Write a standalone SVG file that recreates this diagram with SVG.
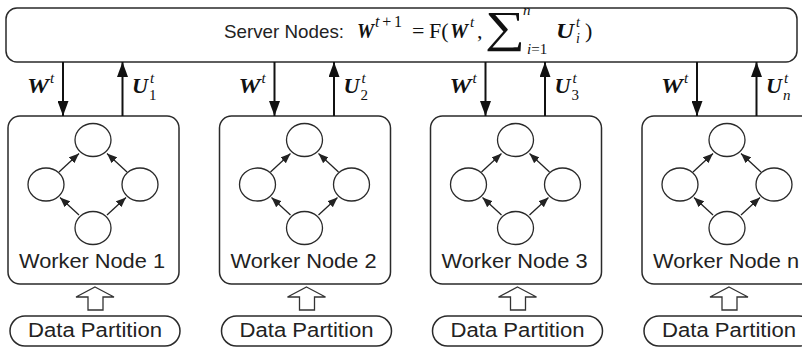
<svg xmlns="http://www.w3.org/2000/svg" width="802" height="347" viewBox="0 0 802 347">
  <style>
    .box{fill:#fff;stroke:#2a2a2a;stroke-width:1.5}
    .nd{fill:#fff;stroke:#2a2a2a;stroke-width:1.3}
    .lbl{font-family:"Liberation Sans",Arial,sans-serif;font-size:20px;fill:#222}
    .m{font-family:"Liberation Serif","DejaVu Serif",serif;font-weight:bold;font-style:italic;fill:#111}
    .r{font-family:"Liberation Serif","DejaVu Serif",serif;fill:#111}
    .i{font-style:italic}
    .edge{stroke:#222;stroke-width:1.3;fill:none;marker-end:url(#ah)}
    .link{stroke:#111;stroke-width:2;fill:none;marker-end:url(#big)}
    .feed{fill:#fff;stroke:#333;stroke-width:1.3}
  </style>
  <defs>
    <marker id="ah" viewBox="0 0 10 8" refX="10" refY="4" markerWidth="10" markerHeight="8" markerUnits="userSpaceOnUse" orient="auto">
      <path d="M0,0 L10,4 L0,8 z" fill="#222"/>
    </marker>
    <marker id="big" viewBox="0 0 15 11" refX="15" refY="5.5" markerWidth="15" markerHeight="11" markerUnits="userSpaceOnUse" orient="auto">
      <path d="M0,0 L15,5.5 L0,11 z" fill="#111"/>
    </marker>
    <!-- one worker: box, four units, internal edges -->
    <g id="worker-body">
      <rect class="box" x="8" y="116" width="171" height="168" rx="12"/>
      <ellipse class="nd" cx="93" cy="140" rx="18" ry="16.5"/>
      <ellipse class="nd" cx="46" cy="184.5" rx="18" ry="16.5"/>
      <ellipse class="nd" cx="140" cy="184.5" rx="18" ry="16.5"/>
      <ellipse class="nd" cx="93" cy="228" rx="18" ry="16.5"/>
      <line class="edge" x1="59" y1="172" x2="79" y2="153.5"/>
      <line class="edge" x1="127" y1="172" x2="107" y2="153.5"/>
      <line class="edge" x1="79" y1="215" x2="60" y2="197.5"/>
      <line class="edge" x1="107" y1="215" x2="126" y2="197.5"/>
    </g>
    <!-- hollow feed arrow and the partition pill -->
    <g id="data-body">
      <polygon class="feed" points="95,287 114,297 103,297 103,310 88,310 88,297 76,297"/>
      <rect class="box" x="10" y="316" width="170" height="30" rx="15"/>
      <text class="lbl" x="95" y="337" text-anchor="middle" textLength="134" lengthAdjust="spacingAndGlyphs">Data Partition</text>
    </g>
  </defs>

  <!-- server -->
  <g id="server">
    <rect class="box" x="6" y="8" width="791" height="54" rx="11"/>
    <text class="lbl" x="224" y="37.5" style="font-size:19px" textLength="120" lengthAdjust="spacingAndGlyphs">Server Nodes:</text>
    <text class="m" x="357" y="37.5" font-size="22" textLength="17" lengthAdjust="spacingAndGlyphs">W</text>
    <text class="r" x="375" y="27" font-size="16" textLength="27" lengthAdjust="spacing"><tspan class="i">t</tspan>+1</text>
    <text class="r" x="412" y="37.5" font-size="22">=</text>
    <text class="r" x="429" y="37.5" font-size="22">F(</text>
    <text class="m" x="450" y="37.5" font-size="22" textLength="18" lengthAdjust="spacingAndGlyphs">W</text>
    <text class="r i" x="470" y="27" font-size="15">t</text>
    <text class="r" x="477" y="37.5" font-size="22">,</text>
    <text class="r" x="485" y="42" font-size="44" textLength="40" lengthAdjust="spacingAndGlyphs">∑</text>
    <text class="r i" x="523" y="15" font-size="15">n</text>
    <text class="r" x="527" y="54" font-size="15"><tspan class="i">i</tspan>=1</text>
    <text class="m" x="556" y="37.5" font-size="22" textLength="18" lengthAdjust="spacingAndGlyphs">U</text>
    <text class="r i" x="576" y="27" font-size="14">t</text>
    <text class="r i" x="576" y="43" font-size="14">i</text>
    <text class="r" x="585" y="37.5" font-size="22">)</text>
  </g>

  <!-- workers -->
  <g id="worker1">
    <use href="#worker-body"/>
    <text class="lbl" x="92" y="268" text-anchor="middle" textLength="146" lengthAdjust="spacingAndGlyphs">Worker Node 1</text>
  </g>
  <g id="worker2" transform="translate(211.5,0)">
    <use href="#worker-body"/>
    <text class="lbl" x="92" y="268" text-anchor="middle" textLength="146" lengthAdjust="spacingAndGlyphs">Worker Node 2</text>
  </g>
  <g id="worker3" transform="translate(422.5,0)">
    <use href="#worker-body"/>
    <text class="lbl" x="92" y="268" text-anchor="middle" textLength="146" lengthAdjust="spacingAndGlyphs">Worker Node 3</text>
  </g>
  <g id="worker4" transform="translate(634,0)">
    <use href="#worker-body"/>
    <text class="lbl" x="92" y="268" text-anchor="middle" textLength="146" lengthAdjust="spacingAndGlyphs">Worker Node n</text>
  </g>

  <!-- data partitions -->
  <g id="data1"><use href="#data-body"/></g>
  <g id="data2" transform="translate(211.5,0)"><use href="#data-body"/></g>
  <g id="data3" transform="translate(422.5,0)"><use href="#data-body"/></g>
  <g id="data4" transform="translate(634,0)"><use href="#data-body"/></g>

  <!-- server/worker links -->
  <g id="connectors">
    <g id="link1">
      <line class="link" x1="63" y1="62" x2="63" y2="116"/>
      <line class="link" x1="122.5" y1="116" x2="122.5" y2="62"/>
      <text class="m" x="27" y="93" font-size="22" textLength="22" lengthAdjust="spacingAndGlyphs">W</text>
      <text class="r i" x="50" y="83" font-size="15">t</text>
      <text class="m" x="132" y="93" font-size="22" textLength="16" lengthAdjust="spacingAndGlyphs">U</text>
      <text class="r i" x="150" y="83" font-size="15">t</text>
      <text class="r" x="149" y="100" font-size="15">1</text>
    </g>
    <g id="link2" transform="translate(211.5,0)">
      <line class="link" x1="63" y1="62" x2="63" y2="116"/>
      <line class="link" x1="122.5" y1="116" x2="122.5" y2="62"/>
      <text class="m" x="27" y="93" font-size="22" textLength="22" lengthAdjust="spacingAndGlyphs">W</text>
      <text class="r i" x="50" y="83" font-size="15">t</text>
      <text class="m" x="132" y="93" font-size="22" textLength="16" lengthAdjust="spacingAndGlyphs">U</text>
      <text class="r i" x="150" y="83" font-size="15">t</text>
      <text class="r" x="149" y="100" font-size="15">2</text>
    </g>
    <g id="link3" transform="translate(422.5,0)">
      <line class="link" x1="63" y1="62" x2="63" y2="116"/>
      <line class="link" x1="122.5" y1="116" x2="122.5" y2="62"/>
      <text class="m" x="27" y="93" font-size="22" textLength="22" lengthAdjust="spacingAndGlyphs">W</text>
      <text class="r i" x="50" y="83" font-size="15">t</text>
      <text class="m" x="132" y="93" font-size="22" textLength="16" lengthAdjust="spacingAndGlyphs">U</text>
      <text class="r i" x="150" y="83" font-size="15">t</text>
      <text class="r" x="149" y="100" font-size="15">3</text>
    </g>
    <g id="link4" transform="translate(634,0)">
      <line class="link" x1="63" y1="62" x2="63" y2="116"/>
      <line class="link" x1="122.5" y1="116" x2="122.5" y2="62"/>
      <text class="m" x="27" y="93" font-size="22" textLength="22" lengthAdjust="spacingAndGlyphs">W</text>
      <text class="r i" x="50" y="83" font-size="15">t</text>
      <text class="m" x="132" y="93" font-size="22" textLength="16" lengthAdjust="spacingAndGlyphs">U</text>
      <text class="r i" x="150" y="83" font-size="15">t</text>
      <text class="r i" x="149" y="100" font-size="15">n</text>
    </g>
  </g>
</svg>
